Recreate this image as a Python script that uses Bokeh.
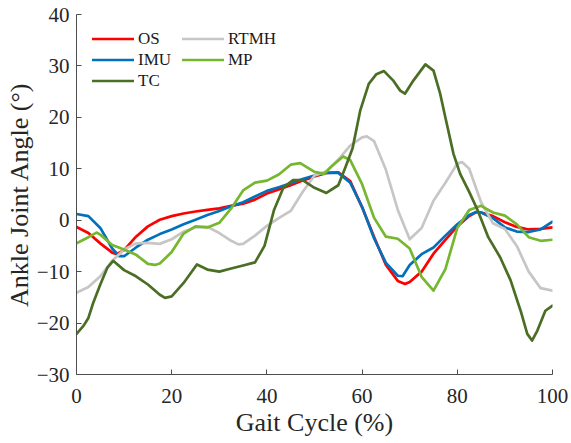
from bokeh.plotting import figure
from bokeh.models import Range1d, Legend, LegendItem, FixedTicker
from bokeh.embed import file_html
from bokeh.resources import INLINE

# ---- data ----
x_ticks = [0, 20, 40, 60, 80, 100]
y_ticks = [-30, -20, -10, 0, 10, 20, 30, 40]

os_x = [0, 2.5, 5, 7.5, 8.5, 10, 12.5, 15, 17.5, 20, 22.5, 25, 27.5, 30, 32.5, 35, 37.5, 40, 42.5, 45,
        47.5, 50, 52.5, 55, 57.5, 60, 62.5, 65, 67.5, 69, 70, 72.5, 75, 77.5, 80, 82.5, 84, 85, 87.5, 90,
        92.5, 95, 97.5, 100]
os_y = [-1.3, -2.5, -4.5, -6.3, -6.6, -5.8, -3.2, -1.2, 0.1, 0.8, 1.3, 1.7, 2.0, 2.3, 2.8, 3.2, 4.0, 5.2, 6.0, 6.8,
        7.7, 8.5, 9.2, 9.3, 7.6, 2.5, -3.2, -8.7, -11.8, -12.4, -12.0, -10.0, -6.5, -3.8, -1.2, 0.8, 1.6, 1.5, 0.8, -0.4,
        -1.3, -1.8, -1.7, -1.4]

imu_x = [0, 2.5, 5, 7.5, 9, 10, 12.5, 15, 17.5, 20, 22.5, 25, 27.5, 30, 32.5, 35, 37.5, 40, 42.5, 45,
         47.5, 50, 52.5, 55, 57.5, 60, 62.5, 65, 67.5, 68.5, 70, 72.5, 75, 77.5, 80, 82.5, 84, 85, 87.5, 90,
         92.5, 95, 97.5, 100]
imu_y = [1.2, 0.8, -1.5, -5.5, -7.0, -7.0, -5.3, -3.8, -2.7, -1.8, -0.8, 0.1, 1.0, 1.8, 2.7, 3.5, 4.6, 5.7, 6.4, 7.2,
         8.0, 8.7, 9.2, 9.2, 7.3, 2.6, -3.5, -8.3, -10.8, -10.9, -8.7, -6.6, -5.3, -3.0, -0.8, 1.0, 1.6, 1.5, 0.4, -1.4,
         -2.2, -2.3, -1.8, -0.3]

rtmh_x = [0, 2.5, 5, 7.5, 10, 12.5, 15, 17.5, 20, 22.5, 25, 27.5, 30, 32.5, 34, 35, 37.5, 40, 42.5, 45,
          47.5, 50, 52.5, 55, 57.5, 60, 61, 62.5, 65, 67.5, 70, 72.5, 75, 77.5, 80, 81, 82.5, 85, 87.5, 90,
          92.5, 95, 97.5, 100]
rtmh_y = [-14.1, -13.0, -10.9, -7.9, -5.7, -4.5, -4.4, -4.6, -3.7, -2.2, -1.4, -1.3, -2.5, -4.0, -4.7, -4.6, -3.0, -1.1, 0.4, 1.8,
          5.5, 8.7, 9.5, 11.8, 14.5, 16.1, 16.3, 15.4, 9.8, 2.0, -3.7, -1.5, 3.8, 7.3, 11.0, 11.3, 10.0, 3.5, -0.6, -1.7,
          -5.0, -10.0, -13.2, -13.7]

mp_x = [0, 2.5, 4.2, 5, 7.5, 10, 12.5, 15, 16.5, 17.5, 20, 22.5, 25, 27.5, 30, 32.5, 35, 37.5, 40, 42.5,
        45, 47, 50, 52, 53.5, 56, 57.5, 60, 62.5, 65, 67.5, 70, 72.5, 75, 77.5, 80, 82.5, 85, 87.5, 90,
        92.5, 95, 97.5, 100]
mp_y = [-4.5, -3.3, -2.4, -2.8, -4.8, -5.7, -6.7, -8.5, -8.7, -8.4, -6.2, -2.6, -1.2, -1.4, -0.5, 2.3, 5.8, 7.3, 7.7, 8.9,
        10.8, 11.1, 9.4, 9.0, 10.4, 12.4, 11.7, 7.0, 0.5, -3.2, -3.6, -5.5, -11.0, -13.7, -9.5, -1.5, 2.0, 2.8, 1.5, 0.9,
        -0.8, -3.3, -4.0, -3.8]

tc_x = [0, 1.5, 2.5, 3.5, 5, 6.5, 7.7, 10, 12.5, 15, 17.5, 18.6, 20, 22.5, 25.3, 27.5, 30, 32.5, 35, 37.5,
        39.5, 41.5, 43.5, 45.5, 47.5, 50, 52.5, 55, 56.5, 58, 59.6, 61.4, 63, 64.6, 66.5, 68, 69, 70.8, 73.3, 75,
        76.4, 77.8, 79.2, 80.6, 82.5, 84.3, 86.5, 89, 91.2, 93.3, 94.7, 95.7, 96.8, 98.5, 100]
tc_y = [-22.1, -20.5, -19.0, -16.1, -12.5, -9.2, -7.9, -9.7, -10.9, -12.5, -14.5, -15.1, -14.8, -12.2, -8.6, -9.6, -10.0, -9.4, -8.8, -8.2,
        -5.0, 2.0, 6.4, 7.8, 7.8, 6.3, 5.3, 6.8, 10.3, 14.0, 21.3, 26.5, 28.4, 29.0, 27.2, 25.2, 24.6, 27.2, 30.3, 29.1,
        24.6, 18.7, 12.9, 9.0, 5.5, 1.9, -3.3, -7.2, -11.7, -17.6, -22.1, -23.4, -21.5, -17.6, -16.6]

labels = ["OS", "IMU", "RTMH", "MP", "TC"]
colors = ["#FF0000", "#0072BD", "#C8C5C5", "#77B62F", "#4B6E25"]

FONT = "Liberation Serif"
TXT = "#262626"

p = figure(width=570, height=442, output_backend="svg", toolbar_location=None,
           x_range=Range1d(0, 100), y_range=Range1d(-30, 40),
           min_border_left=76, min_border_right=18, min_border_top=14, min_border_bottom=68)
p.outline_line_color = None
p.grid.visible = False
p.background_fill_color = "white"
p.border_fill_color = "white"

series = [(os_x, os_y), (imu_x, imu_y), (rtmh_x, rtmh_y), (mp_x, mp_y), (tc_x, tc_y)]
rend = {}
for (xs, ys), lab, col in zip(series, labels, colors):
    rend[lab] = p.line(xs, ys, line_color=col, line_width=2.7, line_join="round", line_cap="round")

for ax in (p.xaxis[0], p.yaxis[0]):
    ax.axis_line_color = "#4d4d4d"
    ax.axis_line_width = 1
    ax.major_tick_line_color = "#4d4d4d"
    ax.major_tick_in = 5
    ax.major_tick_out = 0
    ax.minor_tick_line_color = None
    ax.major_label_text_font = FONT
    ax.major_label_text_font_size = "21px"
    ax.major_label_text_color = TXT
    ax.axis_label_text_font = FONT
    ax.axis_label_text_font_size = "26px"
    ax.axis_label_text_font_style = "normal"
    ax.axis_label_text_color = TXT

p.xaxis.ticker = FixedTicker(ticks=x_ticks)
p.yaxis.ticker = FixedTicker(ticks=y_ticks)
p.xaxis.axis_label = "Gait Cycle (%)"
p.yaxis.axis_label = "Ankle Joint Angle (°)"
p.xaxis.major_label_standoff = 14
p.xaxis.axis_label_standoff = 2
p.yaxis.major_label_standoff = 7
p.yaxis.axis_label_standoff = 0

def make_legend(names, loc):
    lg = Legend(items=[LegendItem(label=n, renderers=[rend[n]]) for n in names],
                location=loc, orientation="vertical",
                label_text_font=FONT, label_text_font_size="17px", label_text_color="#1a1a1a",
                glyph_width=42, glyph_height=21, label_height=21, label_standoff=4,
                spacing=0, padding=0, margin=0,
                border_line_color=None, background_fill_alpha=0)
    p.add_layout(lg)

make_legend(["OS", "IMU", "TC"], (16, 283))
make_legend(["RTMH", "MP"], (106, 304))

open("out.html", "w").write(file_html(p, INLINE))
